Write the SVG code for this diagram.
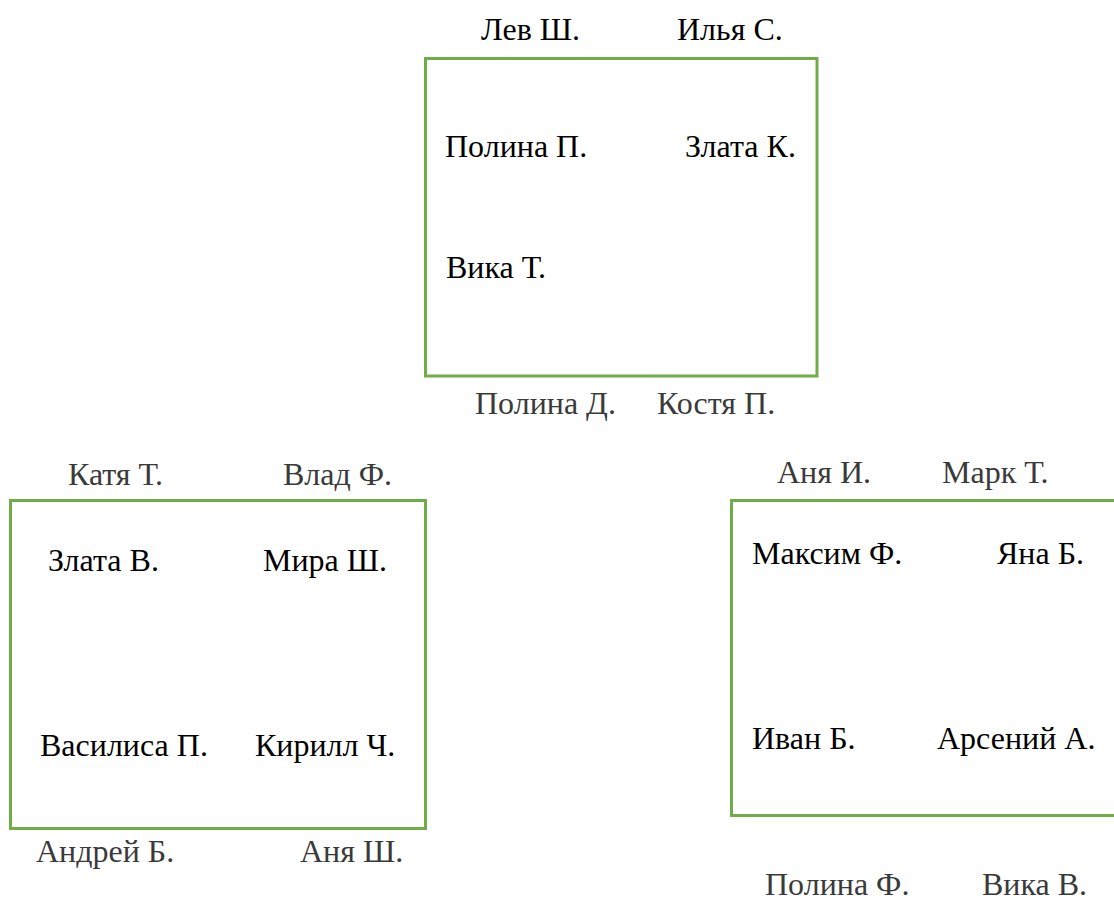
<svg xmlns="http://www.w3.org/2000/svg" width="1114" height="902" viewBox="0 0 1114 902">
<style>
  .box { fill: none; stroke: #70AD47; stroke-width: 3; }
  text { font-family: "Liberation Serif", "DejaVu Serif", "Times New Roman", serif; font-size: 32px; fill: #000; }
  .out { fill: #3a3a3a; }
</style>
<rect width="1114" height="902" fill="#fff"/>
<g id="connectors"></g>
<g id="table1">
  <rect class="box" x="425.5" y="58.5" width="391.5" height="317.5"/>
  <text x="481" y="40">Лев Ш.</text>
  <text x="677" y="40">Илья С.</text>
  <text x="445" y="157">Полина П.</text>
  <text x="685" y="157">Злата К.</text>
  <text x="446" y="278">Вика Т.</text>
  <text class="out" x="475" y="414">Полина Д.</text>
  <text class="out" x="657" y="414">Костя П.</text>
</g>
<g id="table2">
  <rect class="box" x="10.5" y="500.5" width="415" height="328"/>
  <text class="out" x="68" y="485">Катя Т.</text>
  <text class="out" x="283" y="485">Влад Ф.</text>
  <text x="48" y="571">Злата В.</text>
  <text x="263" y="571">Мира Ш.</text>
  <text x="40" y="756">Василиса П.</text>
  <text x="255" y="756">Кирилл Ч.</text>
  <text class="out" x="36" y="862">Андрей Б.</text>
  <text class="out" x="300" y="862">Аня Ш.</text>
</g>
<g id="table3">
  <rect class="box" x="731.5" y="500.5" width="400" height="315"/>
  <text class="out" x="777" y="483">Аня И.</text>
  <text class="out" x="942" y="483">Марк Т.</text>
  <text x="752" y="564">Максим Ф.</text>
  <text x="997" y="564">Яна Б.</text>
  <text x="752" y="749">Иван Б.</text>
  <text x="937" y="749">Арсений А.</text>
  <text class="out" x="765" y="895">Полина Ф.</text>
  <text class="out" x="982" y="895">Вика В.</text>
</g>
</svg>
